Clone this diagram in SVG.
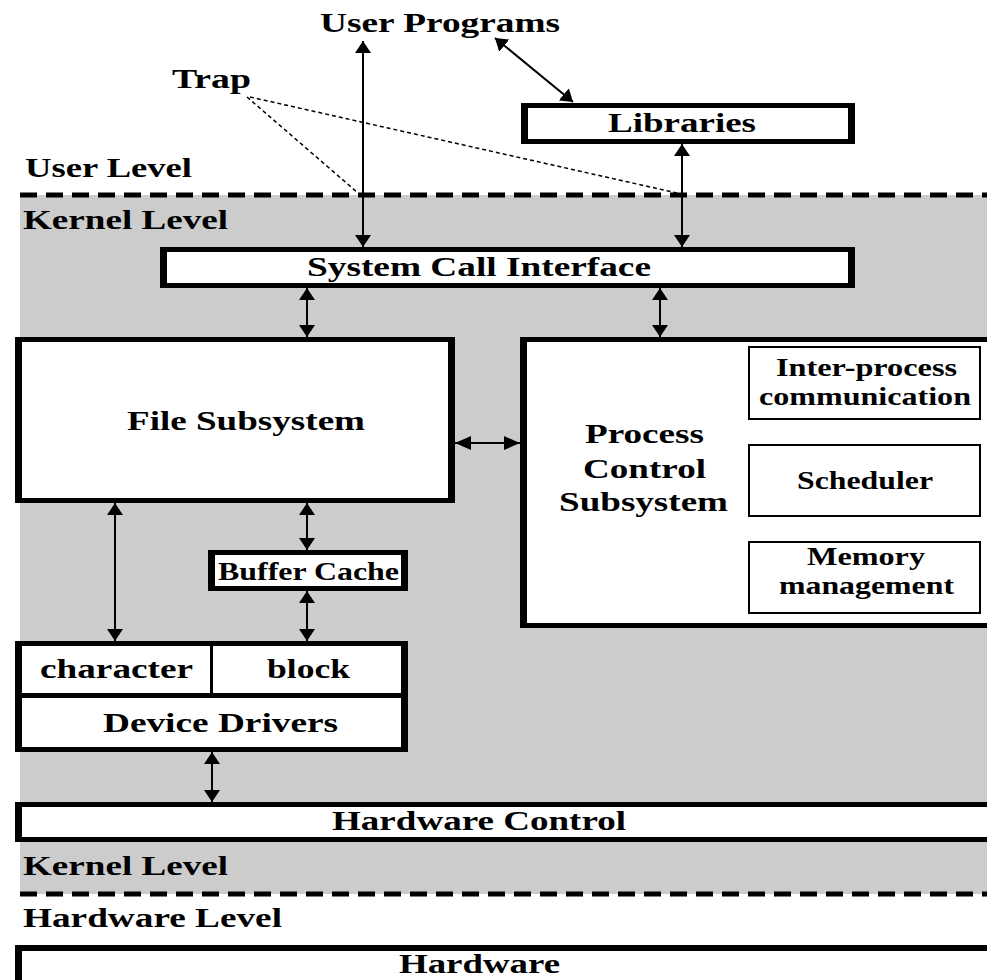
<svg xmlns="http://www.w3.org/2000/svg" width="987" height="980" viewBox="0 0 987 980">
<defs>
  <marker id="ah" viewBox="0 0 12 16" refX="12" refY="8" markerWidth="12" markerHeight="16" markerUnits="userSpaceOnUse" orient="auto-start-reverse"><path d="M0,0 L12,8 L0,16 z" fill="#000"/></marker>
  <marker id="ahh" viewBox="0 0 16 14" refX="16" refY="7" markerWidth="16" markerHeight="14" markerUnits="userSpaceOnUse" orient="auto-start-reverse"><path d="M0,0 L16,7 L0,14 z" fill="#000"/></marker>
</defs>
<style>
  text { font-weight: bold; font-size: 28px; fill: #000; }
  .sm { font-size: 26px; }
  .frame { fill: #000; }
  .inner { fill: #fff; }
  .thin { fill: #fff; stroke: #000; stroke-width: 2; }
  .arrow { stroke: #000; stroke-width: 2; fill: none; marker-start: url(#ah); marker-end: url(#ah); }
  .arrowh { stroke: #000; stroke-width: 2; fill: none; marker-start: url(#ahh); marker-end: url(#ahh); }
  .trap { stroke: #000; stroke-width: 1.5; stroke-dasharray: 4 3; fill: none; }
  .level { stroke: #000; stroke-width: 5; stroke-dasharray: 17 9; }
</style>

<!-- backdrop and kernel band -->
<rect x="0" y="0" width="987" height="980" fill="#fff"/>
<rect x="20" y="195" width="967" height="699" fill="#cccccc"/>
<line class="level" x1="20" y1="195" x2="987" y2="195"/>
<line class="level" x1="20" y1="894" x2="987" y2="894"/>

<g font-family="Liberation Serif, serif">
<!-- level labels -->
<g id="labels">
  <text x="320" y="32" textLength="240" lengthAdjust="spacingAndGlyphs">User Programs</text>
  <text x="172" y="88" textLength="79" lengthAdjust="spacingAndGlyphs">Trap</text>
  <text x="25" y="177" textLength="167" lengthAdjust="spacingAndGlyphs">User Level</text>
  <text x="23" y="229" textLength="205" lengthAdjust="spacingAndGlyphs">Kernel Level</text>
  <text x="23" y="875" textLength="205" lengthAdjust="spacingAndGlyphs">Kernel Level</text>
  <text x="23" y="927" textLength="259" lengthAdjust="spacingAndGlyphs">Hardware Level</text>
</g>

<g id="libraries">
  <rect class="frame" x="521" y="103" width="334" height="41"/>
  <rect class="inner" x="528" y="108" width="320" height="31"/>
  <text x="608" y="132" textLength="148" lengthAdjust="spacingAndGlyphs">Libraries</text>
</g>

<g id="syscall">
  <rect class="frame" x="160" y="247" width="695" height="41"/>
  <rect class="inner" x="167" y="252" width="681" height="31"/>
  <text x="307" y="276" textLength="344" lengthAdjust="spacingAndGlyphs">System Call Interface</text>
</g>

<g id="filesubsystem">
  <rect class="frame" x="15" y="337" width="440" height="166"/>
  <rect class="inner" x="22" y="342" width="426" height="156"/>
  <text x="127" y="430" textLength="238" lengthAdjust="spacingAndGlyphs">File Subsystem</text>
</g>

<g id="processcontrol">
  <rect class="frame" x="520" y="337" width="480" height="291"/>
  <rect class="inner" x="527" y="342" width="470" height="281"/>
  <text x="585" y="443" textLength="119" lengthAdjust="spacingAndGlyphs">Process</text>
  <text x="583" y="478" textLength="123" lengthAdjust="spacingAndGlyphs">Control</text>
  <text x="559" y="511" textLength="169" lengthAdjust="spacingAndGlyphs">Subsystem</text>
</g>

<g id="ipc">
  <rect class="thin" x="749" y="347" width="231" height="72"/>
  <text class="sm" x="776" y="376" textLength="181" lengthAdjust="spacingAndGlyphs">Inter-process</text>
  <text class="sm" x="759" y="405" textLength="212" lengthAdjust="spacingAndGlyphs">communication</text>
</g>

<g id="scheduler">
  <rect class="thin" x="749" y="445" width="231" height="71"/>
  <text class="sm" x="797" y="489" textLength="136" lengthAdjust="spacingAndGlyphs">Scheduler</text>
</g>

<g id="memory">
  <rect class="thin" x="749" y="542" width="231" height="71"/>
  <text class="sm" x="807" y="565" textLength="118" lengthAdjust="spacingAndGlyphs">Memory</text>
  <text class="sm" x="779" y="594" textLength="175" lengthAdjust="spacingAndGlyphs">management</text>
</g>

<g id="buffercache">
  <rect class="frame" x="208" y="550" width="200" height="41"/>
  <rect class="inner" x="215" y="555" width="186" height="31"/>
  <text class="sm" x="218" y="580" textLength="181" lengthAdjust="spacingAndGlyphs">Buffer Cache</text>
</g>

<g id="devicedrivers">
  <rect class="frame" x="15" y="641" width="393" height="111"/>
  <rect class="inner" x="22" y="646" width="379" height="101"/>
  <rect class="frame" x="22" y="693" width="379" height="5"/>
  <line x1="211.5" y1="646" x2="211.5" y2="693" stroke="#000" stroke-width="3"/>
  <text x="40" y="678" textLength="153" lengthAdjust="spacingAndGlyphs">character</text>
  <text x="267" y="678" textLength="83" lengthAdjust="spacingAndGlyphs">block</text>
  <text x="103" y="732" textLength="235" lengthAdjust="spacingAndGlyphs">Device Drivers</text>
</g>

<g id="hardwarecontrol">
  <rect class="frame" x="15" y="802" width="990" height="40"/>
  <rect class="inner" x="22" y="807" width="990" height="30"/>
  <text x="332" y="830" textLength="294" lengthAdjust="spacingAndGlyphs">Hardware Control</text>
</g>

<g id="hardware">
  <rect class="frame" x="15" y="945" width="990" height="50"/>
  <rect class="inner" x="22" y="951" width="990" height="50"/>
  <text x="399" y="973" textLength="161" lengthAdjust="spacingAndGlyphs">Hardware</text>
</g>
</g>

<!-- connectors -->
<g id="connectors">
  <path class="trap" d="M247,97 L358,193"/>
  <path class="trap" d="M250,97 L677,193"/>
  <path class="arrow" d="M363,41 L363,247"/>
  <path class="arrow" d="M495,38 L573,102"/>
  <path class="arrow" d="M682,144 L682,247"/>
  <path class="arrow" d="M307,288 L307,337"/>
  <path class="arrow" d="M660,288 L660,337"/>
  <path class="arrowh" d="M455,443 L520,443"/>
  <path class="arrow" d="M115,503 L115,641"/>
  <path class="arrow" d="M307,503 L307,550"/>
  <path class="arrow" d="M307,591 L307,641"/>
  <path class="arrow" d="M212,752 L212,802"/>
</g>
</svg>
